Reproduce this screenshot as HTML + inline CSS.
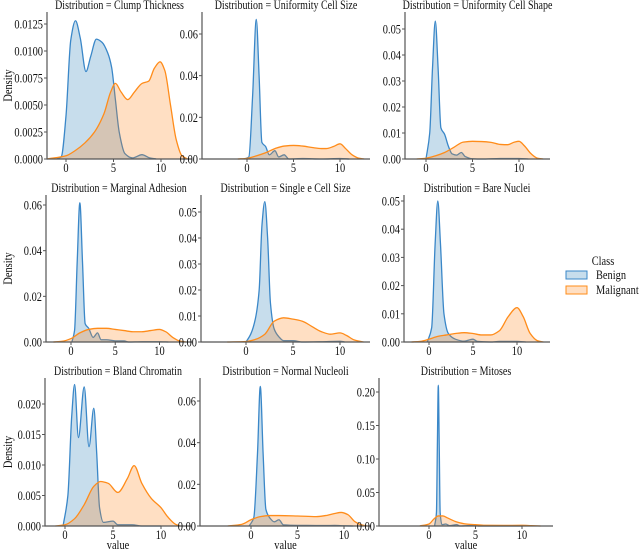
<!DOCTYPE html>
<html><head><meta charset="utf-8">
<style>
body{margin:0;background:#fff;}
svg{display:block;}
svg text{font-family:"Liberation Serif","DejaVu Serif",serif;}
</style></head>
<body>
<svg id="chart" width="640" height="550" viewBox="0 0 640 550" font-family="Liberation Serif, serif"></svg>
<script>
// ---- data (value, density) ----
const clumpBenign=[[-1,0],[-0.5,0.0002],[0,0.004],[0.5,0.011],[1,0.0128],[1.5,0.0112],[2.1,0.0081],[2.6,0.0095],[3.2,0.0111],[3.8,0.0108],[4.4,0.0098],[4.8,0.0085],[5.2,0.0055],[5.6,0.0025],[6.2,0.0005],[7,0.0001],[8,0.0004],[8.8,0.0001],[9.5,0]];
const clumpMalignant=[[-2,0],[0,0.0003],[1,0.0008],[2,0.0015],[3,0.0025],[4,0.0042],[4.7,0.0062],[5.2,0.007],[5.8,0.0062],[6.5,0.0055],[7.2,0.0062],[8,0.007],[8.7,0.0072],[9.3,0.0084],[9.9,0.009],[10.4,0.0082],[11,0.005],[11.6,0.0018],[12.2,0.0003],[12.8,0]];
const sizeBenign=[[-0.3,0],[0.2,0.001],[0.6,0.03],[1,0.067],[1.3,0.04],[1.6,0.008],[2,0.006],[2.4,0.002],[3,0.004],[3.4,0.001],[4,0.002],[4.5,0],[6,0.0002],[8,0],[10,0.0002],[11,0]];
const sizeMalignant=[[-1,0],[0,0.0003],[1,0.0015],[2,0.003],[3,0.005],[4,0.0062],[5,0.0065],[6,0.0062],[7,0.0055],[8,0.005],[8.5,0.005],[9.3,0.006],[10,0.0073],[10.6,0.005],[11.3,0.002],[12,0.0004],[12.6,0]];
const shapeBenign=[[0,0],[0.4,0.01],[0.7,0.035],[1,0.053],[1.3,0.035],[1.6,0.012],[2,0.0095],[2.4,0.005],[2.8,0.002],[3.3,0.0015],[3.8,0.0025],[4.2,0.001],[5,0.0001],[6,0],[8,0.0002],[10,0.0002],[11,0]];
const shapeMalignant=[[-1,0],[0,0.0003],[1,0.0012],[2,0.0025],[3,0.0045],[4,0.0065],[5,0.0068],[6,0.0067],[7,0.0064],[8,0.0056],[8.8,0.0055],[9.5,0.0065],[10,0.0068],[10.6,0.005],[11.3,0.002],[12,0.0003],[12.6,0]];
const adhesionBenign=[[0.1,0],[0.4,0.005],[0.7,0.035],[1,0.061],[1.3,0.035],[1.6,0.008],[2,0.006],[2.5,0.002],[3,0.004],[3.4,0.001],[4,0.001],[5,0.0005],[6,0.0005],[6.5,0],[8,0.0001],[10,0.0001],[11,0]];
const adhesionMalignant=[[-2,0],[-1,0.0003],[0,0.0015],[1,0.004],[2,0.0055],[3,0.006],[4,0.006],[5,0.0055],[6,0.005],[7,0.0045],[8,0.0045],[9,0.005],[10,0.0055],[10.7,0.0045],[11.5,0.002],[12.3,0.0004],[13,0]];
const epiBenign=[[0,0],[0.5,0.003],[1,0.009],[1.4,0.02],[1.7,0.045],[2,0.054],[2.3,0.04],[2.6,0.015],[3,0.005],[3.5,0.002],[4,0.0005],[5,0.0005],[6,0],[8,0.0001],[10,0.0003],[10.5,0]];
const epiMalignant=[[-2,0],[0,0.0002],[1,0.001],[2,0.003],[3,0.008],[4,0.0093],[5,0.0088],[6,0.008],[7,0.006],[8,0.004],[9,0.003],[10,0.0035],[10.7,0.0025],[11.5,0.0008],[12.5,0]];
const nucleiBenign=[[-0.2,0],[0.3,0.005],[0.7,0.035],[1,0.05],[1.3,0.035],[1.7,0.01],[2.2,0.003],[3,0.001],[4,0.0003],[5,0.001],[5.5,0.0002],[7,0],[8,0.0002],[10,0.0002],[11,0]];
const nucleiMalignant=[[-2,0],[-1,0.0002],[0,0.001],[1,0.002],[2,0.0025],[3,0.003],[4,0.0033],[5,0.003],[6,0.0025],[7,0.0025],[8,0.004],[9,0.009],[10,0.0122],[10.7,0.009],[11.5,0.003],[12.3,0.0005],[13,0]];
const chromatinBenign=[[-0.2,0],[0.3,0.005],[0.7,0.018],[1,0.0232],[1.4,0.0145],[2,0.0228],[2.5,0.013],[3,0.0193],[3.3,0.012],[3.6,0.003],[4,0.0006],[5,0.0008],[5.5,0.0002],[7,0.0002],[8,0],[10,0]];
const chromatinMalignant=[[-1,0],[0,0.0002],[1,0.0012],[2,0.0035],[3,0.0065],[3.7,0.0073],[4.5,0.007],[5.5,0.0055],[6.5,0.0078],[7.2,0.0099],[8,0.007],[9,0.0045],[10,0.003],[10.7,0.0015],[11.5,0.0003],[12,0]];
const nucleoliBenign=[[-0.2,0],[0.3,0.004],[0.7,0.035],[1,0.067],[1.3,0.035],[1.6,0.008],[2,0.004],[2.5,0.002],[3,0.003],[3.5,0.0005],[5,0.0003],[6,0.0003],[8,0.0002],[9,0.0003],[10,0.0001],[11,0]];
const nucleoliMalignant=[[-2.5,0],[-1,0.0008],[0,0.003],[1,0.0045],[2,0.005],[3,0.005],[5,0.0048],[7,0.0045],[8,0.005],[9,0.006],[9.7,0.0065],[10.4,0.0055],[11.2,0.002],[12,0.0004],[12.5,0]];
const mitosesBenign=[[0.6,0],[0.8,0.02],[0.9,0.12],[1,0.21],[1.1,0.12],[1.2,0.02],[1.4,0.002],[1.8,0.003],[2.2,0.0005],[3,0.002],[3.3,0],[5,0.001],[5.3,0],[10,0]];
const mitosesMalignant=[[-1,0],[0,0.003],[0.5,0.01],[1,0.015],[1.5,0.015],[2,0.012],[3,0.006],[4,0.003],[5,0.002],[6,0.001],[8,0.0008],[10,0.001],[11,0.0005],[12,0]];

const titles=["Clump Thickness","Uniformity Cell Size","Uniformity Cell Shape","Marginal Adhesion","Single e Cell Size","Bare Nuclei","Bland Chromatin","Normal Nucleoli","Mitoses"];
const xTicks=[0,5,10];
const yTicks1=[0,0.0025,0.005,0.0075,0.01,0.0125];
const yTicks2=[0,0.02,0.04,0.06];
const yTicks3=[0,0.01,0.02,0.03,0.04,0.05];
const yTicks7=[0,0.005,0.01,0.015,0.02];
const yTicks9=[0,0.05,0.1,0.15,0.2];
const classes=["Benign","Malignant"];

// ---- layout (pixel geometry, not data) ----
const L=[
 {l:47,r:192,t:12,b:159,x0:66,kx:9.5,ky:135/0.0125,dec:4,yt:yTicks1,d:[clumpBenign,clumpMalignant]},
 {l:202,r:370,t:12,b:159,x0:247,kx:9.3,ky:125/0.06,dec:2,yt:yTicks2,d:[sizeBenign,sizeMalignant]},
 {l:405,r:550,t:12,b:159,x0:426,kx:9.3,ky:130/0.05,dec:2,yt:yTicks3,d:[shapeBenign,shapeMalignant]},
 {l:46,r:192,t:195,b:342,x0:71,kx:8.85,ky:137/0.06,dec:2,yt:yTicks2,d:[adhesionBenign,adhesionMalignant]},
 {l:201,r:370,t:195,b:342,x0:246,kx:9.4,ky:130/0.05,dec:2,yt:yTicks3,d:[epiBenign,epiMalignant]},
 {l:404,r:550,t:195,b:342,x0:429,kx:8.8,ky:141/0.05,dec:2,yt:yTicks3,d:[nucleiBenign,nucleiMalignant]},
 {l:45,r:191,t:378,b:526,x0:65,kx:9.6,ky:122/0.02,dec:3,yt:yTicks7,d:[chromatinBenign,chromatinMalignant]},
 {l:200,r:371,t:378,b:526,x0:251,kx:9.3,ky:125/0.06,dec:2,yt:yTicks2,d:[nucleoliBenign,nucleoliMalignant]},
 {l:379,r:553,t:378,b:526,x0:429,kx:9.3,ky:134/0.2,dec:2,yt:yTicks9,d:[mitosesBenign,mitosesMalignant]}
];
const colors=["#3a87c8","#ff8c1a"];
const fills=["rgba(31,119,180,0.25)","rgba(255,127,14,0.25)"];
const FONT="Liberation Serif, DejaVu Serif, serif";
const SX=0.8; // horizontal text compression
const NS="http://www.w3.org/2000/svg";
const svg=document.getElementById("chart");
function mk(tag,attrs,parent){
 const e=document.createElementNS(NS,tag);
 for(const k in attrs)e.setAttribute(k,attrs[k]);
 if(tag==="text"){
  e.setAttribute("font-family",FONT);
  if(!attrs.transform){
   const x=attrs.x||0,y=attrs.y||0;
   e.setAttribute("x",0);e.setAttribute("y",0);
   e.setAttribute("transform",`translate(${x},${y}) scale(${SX},1)`);
  }
 }
 (parent||svg).appendChild(e);return e;}

function monoPath(pts){
 const n=pts.length;const dx=[],m=[],t=[];
 for(let i=0;i<n-1;i++){dx[i]=pts[i+1][0]-pts[i][0];m[i]=(pts[i+1][1]-pts[i][1])/dx[i];}
 t[0]=m[0];t[n-1]=m[n-2];
 for(let i=1;i<n-1;i++){if(m[i-1]*m[i]<=0)t[i]=0;else{t[i]=3*(dx[i-1]+dx[i])/((2*dx[i]+dx[i-1])/m[i-1]+(dx[i]+2*dx[i-1])/m[i]);}}
 let d="M"+pts[0][0].toFixed(2)+","+pts[0][1].toFixed(2);
 for(let i=0;i<n-1;i++){const h=dx[i]/3;
  d+="C"+(pts[i][0]+h).toFixed(2)+","+(pts[i][1]+t[i]*h).toFixed(2)+" "+(pts[i+1][0]-h).toFixed(2)+","+(pts[i+1][1]-t[i+1]*h).toFixed(2)+" "+pts[i+1][0].toFixed(2)+","+pts[i+1][1].toFixed(2);}
 return d;
}

L.forEach((p,i)=>{
 const g=mk("g",{});
 
 
 const X=v=>p.x0+v*p.kx, Y=v=>p.b-v*p.ky;
 const t=mk("text",{x:(p.l+p.r)/2,y:p.t-3,"text-anchor":"middle","font-size":"12.5",fill:"#111"},g);
 t.textContent="Distribution = "+titles[i];
 
 
 p.d.forEach((ser,s)=>{
  const pts=ser.map(q=>[X(q[0]),Y(q[1])]);
  const line=monoPath(pts);
  const area=mk("path",{d:line+"L"+pts[pts.length-1][0]+","+p.b+"L"+pts[0][0]+","+p.b+"Z",fill:fills[s],stroke:"none"},g);
  
  
  const ln=mk("path",{d:line,fill:"none",stroke:colors[s],"stroke-width":"1.3"},g);
  
  
 });
 const ax=mk("path",{d:`M${p.l},${p.t}V${p.b}H${p.r}`,fill:"none",stroke:"#555","stroke-width":"1.2"},g);
 
 
 p.yt.forEach(v=>{
  const y=Y(v);
  mk("line",{x1:p.l-3,x2:p.l,y1:y,y2:y,stroke:"#555"},g);
  const tt=mk("text",{x:p.l-4,y:y+4.5,"text-anchor":"end","font-size":"13",fill:"#111"},g);
  tt.textContent=v.toFixed(p.dec);
  
  
 });
 xTicks.forEach(v=>{
  const x=X(v);
  mk("line",{x1:x,x2:x,y1:p.b,y2:p.b+3,stroke:"#555"},g);
  const tt=mk("text",{x:x,y:p.b+13,"text-anchor":"middle","font-size":"13",fill:"#111"},g);
  tt.textContent=v;
  
  
 });
 if(i%3===0){
  const yl=mk("text",{transform:`translate(12,${(p.t+p.b)/2}) rotate(-90) scale(${SX},1)`,x:0,y:0,"text-anchor":"middle","font-size":"13",fill:"#111"},g);
  yl.textContent="Density";
  
  
 }
 if(i>=6){
  const xl=mk("text",{x:(p.l+p.r)/2,y:p.b+23,"text-anchor":"middle","font-size":"13",fill:"#111"},g);
  xl.textContent="value";
  
  
 }
});

// legend
const lg=mk("g",{});


const lt=mk("text",{x:603,y:265,"text-anchor":"middle","font-size":"13",fill:"#111"},lg);
lt.textContent="Class";


classes.forEach((c,s)=>{
 const y=271+s*15;
 const r=mk("rect",{x:566,y:y,width:21,height:8,fill:fills[s],stroke:colors[s],"stroke-width":"1"},lg);
 
 
 const tx=mk("text",{x:596,y:y+8,"font-size":"13",fill:"#111"},lg);
 tx.textContent=c;
 
 
});
</script>
</body></html>
